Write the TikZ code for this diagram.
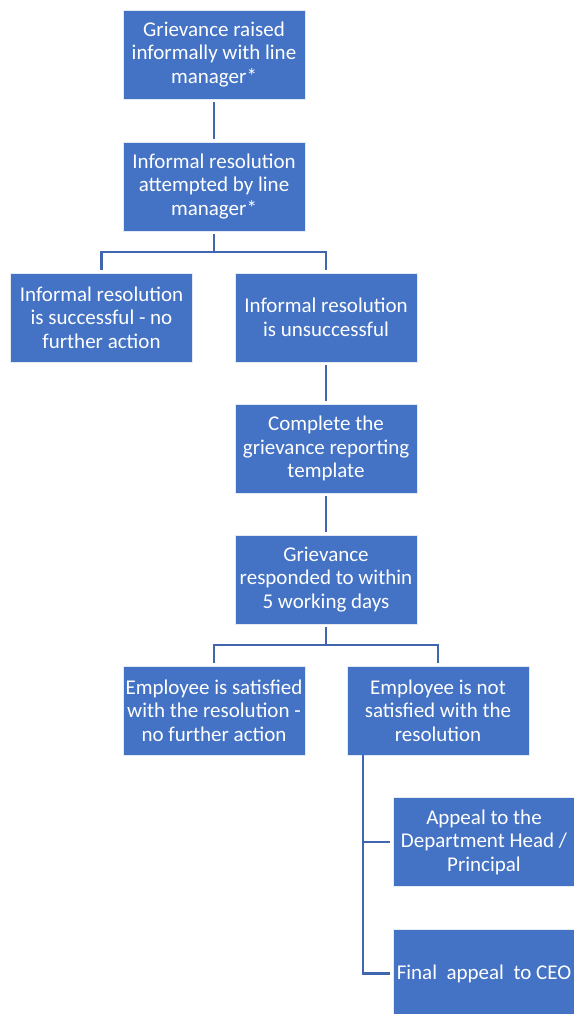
\documentclass[tikz,border=0pt]{standalone}
\usepackage{fontspec}
\setmainfont{Carlito}
\definecolor{boxblue}{HTML}{4472C4}
\definecolor{lineblue}{HTML}{3F66AE}
\begin{document}
\begin{tikzpicture}[x=1pt,y=-1pt,
  box/.style={rectangle, fill=boxblue, draw=white!85!boxblue, line width=0.8pt,
    minimum width=182pt, minimum height=89pt, inner sep=0pt, align=center,
    text=white, font=\fontsize{21}{23.5}\selectfont},
  conn/.style={draw=lineblue, line width=2.7pt}]
\useasboundingbox (0,0) rectangle (573,1014);
\node[box] (b1) at (214,54.5) {Grievance raised\\informally with line\\manager*};
\node[box] (b2) at (214,186.5) {Informal resolution\\attempted by line\\manager*};
\node[box] (b3) at (101.5,317.5) {Informal resolution\\is successful - no\\further action};
\node[box] (b4) at (326,317.5) {Informal resolution\\is unsuccessful};
\node[box] (b5) at (326,448.5) {Complete the\\grievance reporting\\template};
\node[box] (b6) at (326,579.5) {Grievance\\responded to within\\5 working days};
\node[box] (b7) at (214,710.5) {Employee is satisfied\\with the resolution -\\no further action};
\node[box] (b8) at (438,710.5) {Employee is not\\satisfied with the\\resolution};
\node[box] (b9) at (484,842) {Appeal to the\\Department Head /\\Principal};
\node[box] (b10) at (484,973.5) {Final\ \ appeal\ \ to CEO};
\coordinate (j1) at (214,252);
\coordinate (j2) at (326,645);
\coordinate (v) at (363,755);
\draw[conn, shorten <=3pt, shorten >=3pt] (b1.south) -- (b2.north);
\draw[conn, shorten <=3pt, shorten >=3pt] (b2.south) -- (j1) -| (b3.north);
\draw[conn, shorten >=3pt] (j1) -| (b4.north);
\draw[conn, shorten <=3pt, shorten >=3pt] (b4.south) -- (b5.north);
\draw[conn, shorten <=3pt, shorten >=3pt] (b5.south) -- (b6.north);
\draw[conn, shorten <=3pt, shorten >=3pt] (b6.south) -- (j2) -| (b7.north);
\draw[conn, shorten >=3pt] (j2) -| (b8.north);
\draw[conn, shorten <=3pt, shorten >=3pt] (v) |- (b10.west);
\draw[conn, shorten >=3pt] (v) |- (b9.west);
\end{tikzpicture}
\end{document}
